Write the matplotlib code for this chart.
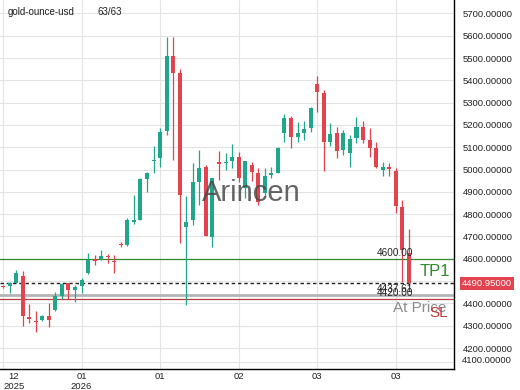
import numpy as np
import matplotlib
matplotlib.use("Agg")
import matplotlib.pyplot as plt
import matplotlib.transforms as mtransforms

plt.rcParams['font.family'] = ['Liberation Sans', 'DejaVu Sans']

# daily candles, gold-ounce-usd
opens = [4478, 4478, 4493, 4524, 4340, 4322, 4325, 4343, 4370, 4433,
         4490, 4460, 4479, 4535, 4597, 4597, 4614, 4591, 4667, 4661,
         4766, 4774, 4956, 5038, 5050, 5172, 5509, 5434, 4741, 4774,
         4945, 5010, 4699, 5032, 5030, 5039, 5057, 4916, 5020, 4986,
         4893, 4975, 4986, 5165, 5229, 5144, 5165, 5185, 5383, 5344,
         5124, 5162, 5087, 5075, 5140, 5192, 5132, 5095, 4998, 5010,
         4995, 4830, 4624]
highs = [4481, 4497, 4549, 4545, 4397, 4367, 4349, 4400, 4452, 4490,
         4492, 4482, 4512, 4624, 4617, 4639, 4621, 4617, 4676, 4783,
         4886, 4962, 4988, 5105, 5185, 5595, 5595, 5449, 4881, 5030,
         5087, 5020, 4962, 5084, 5075, 5113, 5077, 5040, 5035, 5005,
         5005, 5012, 5100, 5249, 5240, 5214, 5219, 5279, 5419, 5356,
         5207, 5192, 5177, 5155, 5234, 5219, 5185, 5124, 5035, 5028,
         5005, 4863, 4732]
lows = [4468, 4448, 4490, 4299, 4311, 4273, 4320, 4295, 4366, 4418,
        4418, 4407, 4445, 4533, 4572, 4595, 4581, 4535, 4651, 4659,
        4756, 4772, 4900, 4986, 5012, 5154, 5042, 4669, 4393, 4751,
        4841, 4700, 4651, 4953, 4998, 5005, 4945, 4871, 4950, 4841,
        4880, 4960, 4983, 5124, 5095, 5124, 5132, 5169, 5259, 4993,
        5105, 5050, 5065, 5012, 5120, 5117, 5057, 5005, 4971, 4971,
        4806, 4497, 4478]
closes = [4472, 4493, 4535, 4343, 4331, 4316, 4343, 4325, 4433, 4485,
          4460, 4475, 4505, 4594, 4590, 4612, 4608, 4587, 4663, 4774,
          4774, 4956, 4986, 5043, 5169, 5509, 5434, 4886, 4766, 4942,
          5008, 4702, 4960, 5026, 5035, 5057, 4960, 5039, 4990, 4856,
          4971, 4986, 5098, 5229, 5144, 5162, 5181, 5274, 5346, 5124,
          5159, 5084, 5165, 5135, 5192, 5132, 5095, 5012, 5010, 5004,
          4836, 4639, 4490.95]

tick_pos = [0, 12, 24, 36, 48, 60]
tick_labels = ['12\n2025', '01\n2026', '01', '02', '03', '03']
y_ticks = list(range(4200, 5701, 100))

symbol = 'gold-ounce-usd'
counter = '63/63'
last_price = 4490.95
tp1 = 4600.00
entry = 4437.61
sl = 4420.00

green = '#22a68b'
red = '#e3424f'

fig = plt.figure(figsize=(5.2, 3.9), dpi=100)
ax = fig.add_axes([0, 21 / 390, 454 / 520, 369 / 390])

x = np.arange(len(opens))
o = np.array(opens, dtype=float)
h = np.array(highs, dtype=float)
l = np.array(lows, dtype=float)
c = np.array(closes, dtype=float)
cols = [green if cc >= oo else red for oo, cc in zip(o, c)]

ax.vlines(x, l, h, colors=cols, lw=0.9, zorder=3)
bottoms = np.minimum(o, c)
heights = np.maximum(np.abs(c - o), 4)
ax.bar(x, heights, bottom=bottoms, width=0.62, color=cols, zorder=4)

# levels
ax.axhline(tp1, color='#2e8b2e', lw=0.9, zorder=2)
ax.axhline(last_price, color='#222222', lw=1.0, ls=(0, (2.5, 2)), zorder=2)
ax.axhline(entry, color='#b5b5b5', lw=2.0, zorder=2)
ax.axhline(sl, color='#c0393f', lw=0.9, zorder=2)

ax.text(62.7, tp1 + 3, '%.2f' % tp1, ha='right', va='bottom', fontsize=7.2,
        color='#222222', zorder=5)
ax.text(63.7, 4545, 'TP1', ha='left', va='center', fontsize=12,
        color='#2e8b2e', zorder=5)
ax.text(62.7, entry + 3, '%.2f' % entry, ha='right', va='bottom', fontsize=7.2,
        color='#222222', zorder=5)
ax.text(62.7, sl + 3, '%.2f' % sl, ha='right', va='bottom', fontsize=7.2,
        color='#222222', zorder=5)
ax.text(59.6, 4378, 'At Price', ha='left', va='center', fontsize=11,
        color='#8c8c8c', zorder=5)
ax.text(65.1, 4355, 'SL', ha='left', va='center', fontsize=11,
        color='#c0393f', zorder=5)

# watermark
ax.text(38, 4895, 'Arincen', ha='center', va='center', fontsize=21,
        color='#4a4a4a', alpha=0.85, zorder=6)

# header
ax.text(8 / 454, 1 - 12 / 369, symbol, transform=ax.transAxes, fontsize=7,
        va='center', ha='left', color='#222222')
ax.text(97 / 454, 1 - 12 / 369, counter, transform=ax.transAxes, fontsize=7,
        va='center', ha='left', color='#222222')

ax.set_xlim(-0.46, 68.9)
ax.set_ylim(4106, 5760)

ax.yaxis.tick_right()
ax.set_yticks(y_ticks)
ax.set_yticklabels(['%.5f' % v for v in y_ticks])
ax.tick_params(axis='y', length=0, pad=6, labelsize=6.8, labelcolor='#222222')
ax.set_xticks(tick_pos)
ax.set_xticklabels(tick_labels)
ax.tick_params(axis='x', length=0, pad=2, labelsize=6.8, labelcolor='#222222')
for lab in ax.get_xticklabels()[:1]:
    lab.set_horizontalalignment('left')
    lab.set_multialignment('center')

ax.grid(True, color='#e4e4e4', lw=0.8, zorder=0)
ax.set_axisbelow(True)
# clamped bottom label and grid line
ax.axhline(4137, color='#e4e4e4', lw=0.8, zorder=0)
ax.text(1 + 8 / 454, 0.022, '4100.00000', transform=ax.transAxes, fontsize=6.8,
        va='center', ha='left', color='#222222')

# current price tag
trans = mtransforms.blended_transform_factory(ax.transAxes, ax.transData)
ax.text(1 + 8 / 454, last_price, '%.5f' % last_price, transform=trans,
        fontsize=6.8, va='center', ha='left', color='white',
        bbox=dict(boxstyle='square,pad=0.2', fc=red, ec='none'), zorder=7)

for side in ['left', 'top']:
    ax.spines[side].set_visible(False)
ax.spines['right'].set_color('black')
ax.spines['bottom'].set_color('black')
ax.spines['right'].set_linewidth(1.0)
ax.spines['bottom'].set_linewidth(1.0)

fig.savefig('out.png', dpi=100)
